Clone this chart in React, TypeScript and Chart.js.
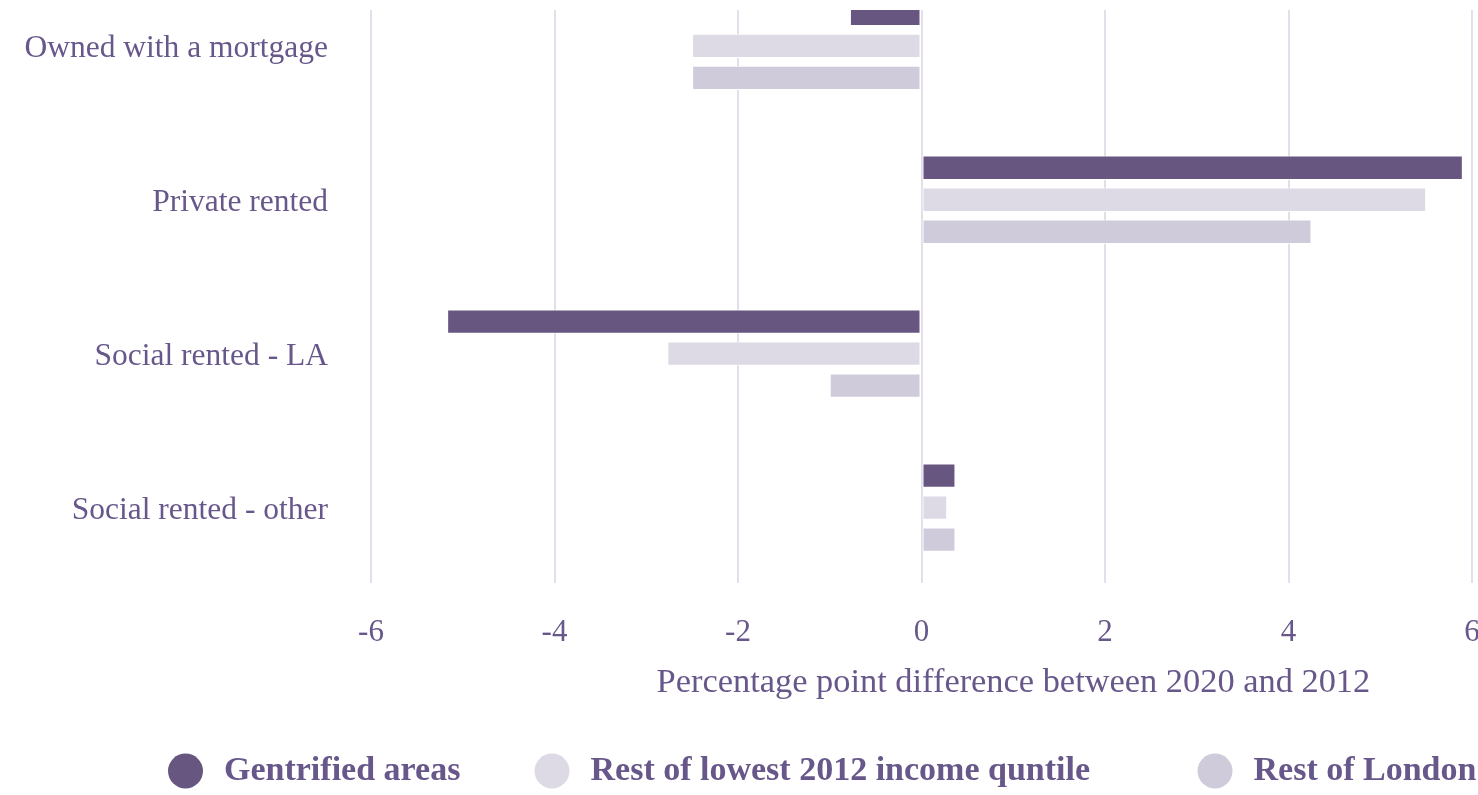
import React, { useEffect, useRef } from 'react';
import { Chart, registerables } from 'chart.js';

Chart.register(...registerables);

const categories = ['Owned with a mortgage', 'Private rented', 'Social rented - LA', 'Social rented - other'];
const seriesNames = ['Gentrified areas', 'Rest of lowest 2012 income quntile', 'Rest of London'];
const gentrified = [-0.78, 5.9, -5.17, 0.37];
const restLowest = [-2.5, 5.5, -2.77, 0.28];
const restLondon = [-2.5, 4.25, -1.0, 0.37];
const seriesColors = ['#675680', '#dddae5', '#cfcbdb'];
const xMin = -6;
const xMax = 6;
const xStep = 2;
const axisTitle = 'Percentage point difference between 2020 and 2012';

const fontFamily = '"Liberation Serif", "Times New Roman", serif';
const textColor = '#67578a';
const gridColor = '#e2dfea';
const legendCircleX = [185.5, 552, 1215];

const overlayPlugin = {
  id: 'overlay',
  afterDraw(chart: any) {
    const ctx = chart.ctx;
    const area = chart.chartArea;
    ctx.save();
    ctx.fillStyle = textColor;
    ctx.font = `34.4px ${fontFamily}`;
    ctx.textAlign = 'center';
    ctx.textBaseline = 'middle';
    ctx.fillText(axisTitle, area.left + (area.right - area.left) * 0.5835, area.bottom + 100);

    ctx.font = `bold 34px ${fontFamily}`;
    const y = 771;
    chart.data.datasets.forEach((ds: any, i: number) => {
      const cx = legendCircleX[i];
      ctx.beginPath();
      ctx.arc(cx, y, 17.5, 0, Math.PI * 2);
      ctx.fillStyle = ds.backgroundColor;
      ctx.fill();
      ctx.fillStyle = textColor;
      ctx.textAlign = 'left';
      ctx.fillText(ds.label, cx + 38.5, y);
    });
    ctx.restore();
  },
};

export default function App() {
  const ref = useRef<HTMLCanvasElement>(null);

  useEffect(() => {
    if (!ref.current) return;
    const seriesValues = [gentrified, restLowest, restLondon];
    const chart = new Chart(ref.current, {
      type: 'bar',
      data: {
        datasets: seriesNames.map((name, s) => ({
          label: name,
          data: seriesValues[s].map((v, i) => ({ x: v, y: i })),
          backgroundColor: seriesColors[s],
          borderColor: 'rgba(255,255,255,0.85)',
          borderWidth: 1,
          borderSkipped: false,
          categoryPercentage: 0.624,
          barPercentage: 0.76,
        })),
      },
      options: {
        indexAxis: 'y',
        animation: false,
        responsive: false,
        layout: { padding: { top: 10, right: 6, bottom: 152, left: 0 } },
        plugins: {
          legend: { display: false },
          tooltip: { enabled: false },
        },
        scales: {
          x: {
            type: 'linear',
            min: xMin,
            max: xMax,
            grid: { color: gridColor, lineWidth: 2, drawTicks: false },
            border: { display: false },
            ticks: {
              stepSize: xStep,
              padding: 31,
              color: textColor,
              font: { family: fontFamily, size: 31 },
            },
            afterFit: (scale: any) => {
              scale.height = 60;
              scale.paddingLeft = 0;
              scale.paddingRight = 0;
            },
          },
          y: {
            type: 'linear',
            reverse: true,
            offset: false,
            min: -0.233,
            max: 3.49,
            grid: { display: false, drawTicks: false, offset: false },
            border: { display: false },
            afterBuildTicks: (scale: any) => {
              scale.ticks = categories.map((_, i) => ({ value: i }));
            },
            afterFit: (scale: any) => {
              scale.width = 371;
              scale.paddingTop = 0;
              scale.paddingBottom = 0;
            },
            ticks: {
              padding: 43,
              labelOffset: 3,
              color: textColor,
              font: { family: fontFamily, size: 31.5 },
              callback: (v: any) => categories[Math.round(Number(v))] ?? '',
            },
          },
        },
      },
      plugins: [overlayPlugin],
    } as any);
    return () => chart.destroy();
  }, []);

  return (
    <div style={{ position: 'fixed', left: 0, top: 0, width: 1478, height: 795, background: '#fff' }}>
      <canvas ref={ref} width={1478} height={795} style={{ display: 'block' }} />
    </div>
  );
}
